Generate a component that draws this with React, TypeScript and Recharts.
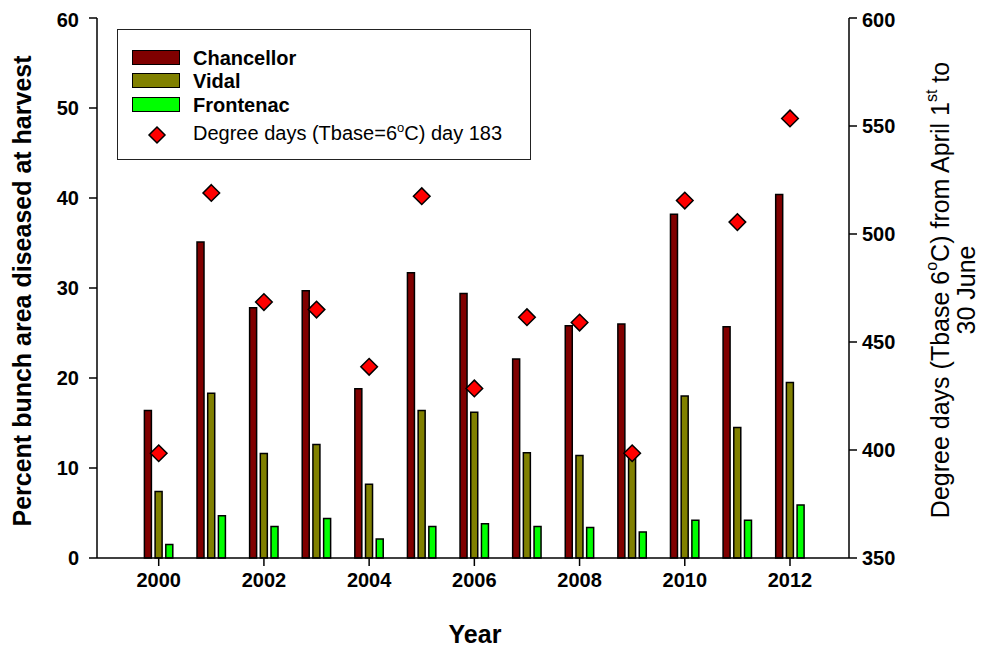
import React from 'react';
import { ComposedChart, Bar, Line, XAxis, YAxis } from 'recharts';

const years = ['2000', '2001', '2002', '2003', '2004', '2005', '2006', '2007', '2008', '2009', '2010', '2011', '2012'];
const chancellor = [16.4, 35.1, 27.8, 29.7, 18.8, 31.7, 29.4, 22.1, 25.8, 26.0, 38.2, 25.7, 40.4];
const vidal = [7.4, 18.3, 11.6, 12.6, 8.2, 16.4, 16.2, 11.7, 11.4, 11.1, 18.0, 14.5, 19.5];
const frontenac = [1.5, 4.7, 3.5, 4.4, 2.1, 3.5, 3.8, 3.5, 3.4, 2.9, 4.2, 4.2, 5.9];
const degreeDays = [398.5, 519, 468.5, 465, 438.5, 517.5, 428.5, 461.5, 459, 398.5, 515.5, 505.5, 553.5];
const leftTicks = [0, 10, 20, 30, 40, 50, 60];
const rightTicks = [350, 400, 450, 500, 550, 600];

const data = years.map((year, i) => ({
  year,
  chancellor: chancellor[i],
  vidal: vidal[i],
  frontenac: frontenac[i],
  dd: degreeDays[i],
}));

const FONT = '"Liberation Sans", Arial, sans-serif';
const COLORS = { chancellor: '#800000', vidal: '#808000', frontenac: '#00FF00', dd: '#FF0000' };

const tickStyle = { fontFamily: FONT, fontSize: 20, fontWeight: 700, fill: '#000' };

const Diamond = (props: any) => {
  const { cx, cy, index } = props;
  if (cx == null || cy == null) return <g key={`d-${index}`} />;
  const r = 8.3;
  return (
    <polygon
      key={`d-${index}`}
      points={`${cx},${cy - r} ${cx + r},${cy} ${cx},${cy + r} ${cx - r},${cy}`}
      fill={COLORS.dd}
      stroke="#000"
      strokeWidth={1.5}
    />
  );
};

const LeftTitle = () => (
  <text
    x={14}
    y={283}
    transform="rotate(-90 14 283)"
    textAnchor="middle"
    dominantBaseline="central"
    fontFamily={FONT}
    fontSize={25}
    fontWeight={700}
    fill="#000"
  >
    Percent bunch area diseased at harvest
  </text>
);

const RightTitle = () => (
  <g fontFamily={FONT} fontSize={25} fill="#000">
    <text x={932} y={282} transform="rotate(-90 932 282)" textAnchor="middle" dominantBaseline="central">
      Degree days (Tbase 6
      <tspan fontSize={16} dy={-9}>o</tspan>
      <tspan dy={9}>C) from April 1</tspan>
      <tspan fontSize={16} dy={-9}>st</tspan>
      <tspan dy={9}> to</tspan>
    </text>
    <text x={958} y={282} transform="rotate(-90 958 282)" textAnchor="middle" dominantBaseline="central">
      30 June
    </text>
  </g>
);

const XTitle = () => (
  <text x={467} y={626} textAnchor="middle" dominantBaseline="central" fontFamily={FONT} fontSize={25} fontWeight={700} fill="#000">
    Year
  </text>
);

const legendRows = [
  { key: 'chancellor', label: 'Chancellor', top: 27.5 },
  { key: 'vidal', label: 'Vidal', top: 51.3 },
  { key: 'frontenac', label: 'Frontenac', top: 75.3 },
];

const LegendBox = () => (
  <div
    style={{
      position: 'absolute',
      left: 109,
      top: 21,
      width: 412,
      height: 129,
      border: '1.5px solid #222',
      background: '#fff',
      fontFamily: FONT,
      color: '#000',
    }}
  >
    {legendRows.map((r) => (
      <div key={r.key}>
        <div
          style={{
            position: 'absolute',
            left: 14,
            top: r.top - 8,
            width: 46,
            height: 13,
            background: (COLORS as any)[r.key],
            border: '1px solid #000',
          }}
        />
        <div
          style={{
            position: 'absolute',
            left: 75,
            top: r.top - 12,
            fontSize: 20,
            fontWeight: 700,
            lineHeight: '24px',
            whiteSpace: 'nowrap',
          }}
        >
          {r.label}
        </div>
      </div>
    ))}
    <svg style={{ position: 'absolute', left: 28, top: 94 }} width={22} height={22}>
      <polygon points="11,3 19,11 11,19 3,11" fill={COLORS.dd} stroke="#000" strokeWidth={1.5} />
    </svg>
    <div
      style={{
        position: 'absolute',
        left: 75,
        top: 91,
        fontSize: 20,
        lineHeight: '24px',
        whiteSpace: 'nowrap',
      }}
    >
      Degree days (Tbase=6
      <span style={{ fontSize: 13, position: 'relative', top: -8 }}>o</span>
      C) day 183
    </div>
  </div>
);

export default function App() {
  return (
    <div style={{ position: 'relative', width: 976, height: 640, background: '#fff' }}>
      <ComposedChart
        width={976}
        height={640}
        data={data}
        margin={{ top: 10, right: 0, bottom: 0, left: 0 }}
        barGap={3.7}
      >
        <XAxis
          xAxisId="bottom"
          dataKey="year"
          type="category"
          height={90}
          padding={{ left: 35.4, right: 32.7 }}
          interval={1}
          tick={tickStyle}
          tickSize={8}
          tickMargin={7}
          axisLine={{ stroke: '#000', strokeWidth: 1.5 }}
          tickLine={{ stroke: '#000', strokeWidth: 1.5 }}
        />
        <XAxis
          xAxisId="top"
          dataKey="year"
          orientation="top"
          height={0}
          tick={false}
          tickLine={false}
          axisLine={{ stroke: '#000', strokeWidth: 1.5 }}
        />
        <YAxis
          yAxisId="left"
          domain={[0, 60]}
          ticks={leftTicks}
          width={89}
          tick={tickStyle}
          tickSize={8}
          tickMargin={10}
          axisLine={{ stroke: '#000', strokeWidth: 1.5 }}
          tickLine={{ stroke: '#000', strokeWidth: 1.5 }}
        />
        <YAxis
          yAxisId="right"
          orientation="right"
          domain={[350, 600]}
          ticks={rightTicks}
          width={135}
          tick={{ ...tickStyle, textAnchor: 'start' }}
          tickSize={8}
          tickMargin={5}
          axisLine={{ stroke: '#000', strokeWidth: 1.5 }}
          tickLine={{ stroke: '#000', strokeWidth: 1.5 }}
        />
        <Bar xAxisId="bottom" yAxisId="left" dataKey="chancellor" barSize={7} fill={COLORS.chancellor} stroke="#000" strokeWidth={1.5} isAnimationActive={false} />
        <Bar xAxisId="bottom" yAxisId="left" dataKey="vidal" barSize={7} fill={COLORS.vidal} stroke="#000" strokeWidth={1.5} isAnimationActive={false} />
        <Bar xAxisId="bottom" yAxisId="left" dataKey="frontenac" barSize={7} fill={COLORS.frontenac} stroke="#000" strokeWidth={1.5} isAnimationActive={false} />
        <Line
          xAxisId="bottom"
          yAxisId="right"
          dataKey="dd"
          stroke="none"
          dot={Diamond}
          activeDot={false}
          isAnimationActive={false}
        />
        <LeftTitle />
        <RightTitle />
        <XTitle />
      </ComposedChart>
      <LegendBox />
    </div>
  );
}
